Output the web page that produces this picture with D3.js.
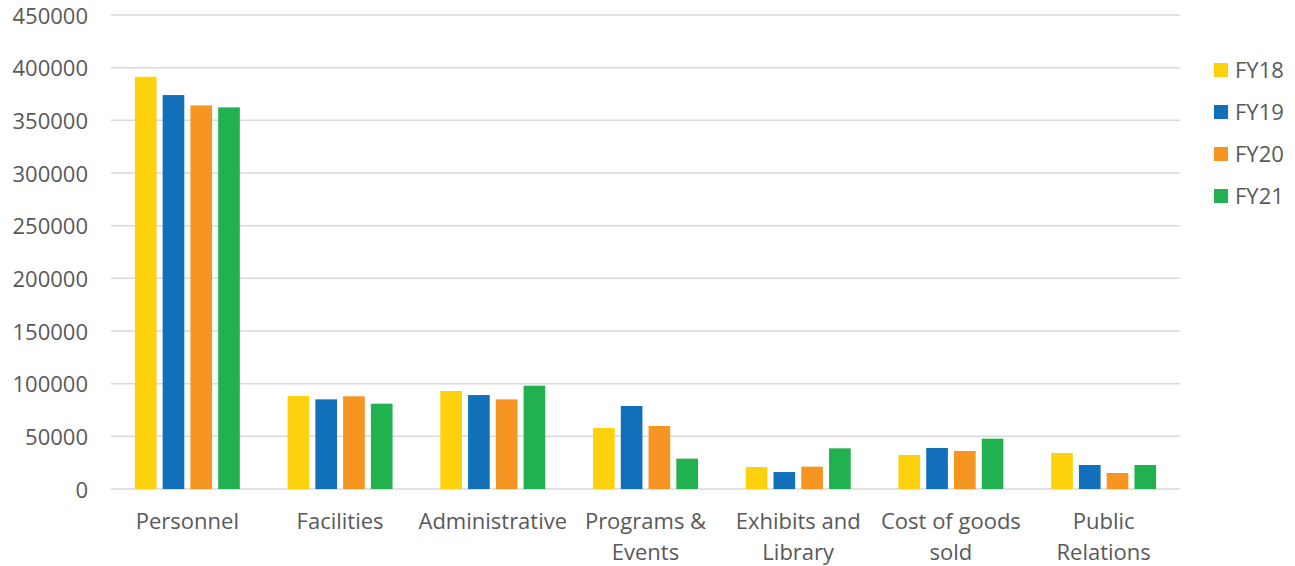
<!DOCTYPE html>
<html lang="en">
<head>
  <meta charset="UTF-8">
  <title>Expenses by category FY18-FY21</title>
  <script src="https://d3js.org/d3.v7.min.js"></script>
  <style>
    body { margin: 0; background: #fff; font-family: "Open Sans", sans-serif; }
    svg { display: block; }
    text { fill: #595959; }
  </style>
</head>
<body>
  <svg width="1295" height="566"></svg>
  <script>
    const categories = ["Personnel", "Facilities", "Administrative", "Programs & Events",
      "Exhibits and Library", "Cost of goods sold", "Public Relations"];
    const years = ["FY18", "FY19", "FY20", "FY21"];
    const fy18 = [391400, 88300, 93000, 57900, 20900, 32300, 34200];
    const fy19 = [374000, 85100, 89200, 78800, 16100, 38900, 22800];
    const fy20 = [364200, 88000, 85100, 59800, 21200, 36100, 15200];
    const fy21 = [362300, 81000, 98100, 28800, 38600, 47800, 22800];
    const yTicks = [0, 50000, 100000, 150000, 200000, 250000, 300000, 350000, 400000, 450000];
    const colors = ["#FDD10C", "#1170B9", "#F79523", "#22B14F"];

    const series = [fy18, fy19, fy20, fy21];
    const svg = d3.select("svg");
    const plotLeft = 111, plotRight = 1180, plotTop = 15, plotBottom = 489;

    const x0 = d3.scaleBand().domain(categories).range([plotLeft, plotRight]);
    const x1 = d3.scaleBand().domain(years).range([0, x0.bandwidth()])
      .paddingInner(0.22).paddingOuter(0.86);
    const y = d3.scaleLinear().domain([0, 450000]).range([plotBottom, plotTop]);
    const color = d3.scaleOrdinal().domain(years).range(colors);

    // gridlines
    svg.append("g").selectAll("line")
      .data(yTicks)
      .join("line")
      .attr("x1", plotLeft).attr("x2", plotRight)
      .attr("y1", d => y(d)).attr("y2", d => y(d))
      .attr("stroke", "#d9d9d9").attr("stroke-width", 1.5);

    // y labels
    svg.append("g").selectAll("text")
      .data(yTicks)
      .join("text")
      .attr("x", 88).attr("y", d => y(d) + 1)
      .attr("dy", "0.35em")
      .attr("text-anchor", "end")
      .attr("font-size", "22px")
      .text(d => d);

    // bars
    const groups = svg.append("g").selectAll("g")
      .data(categories)
      .join("g")
      .attr("transform", c => `translate(${x0(c)},0)`);

    groups.selectAll("rect")
      .data((c, i) => years.map((yr, j) => ({ yr, v: series[j][i] })))
      .join("rect")
      .attr("x", d => x1(d.yr))
      .attr("width", x1.bandwidth())
      .attr("y", d => y(d.v))
      .attr("height", d => plotBottom - y(d.v))
      .attr("fill", d => color(d.yr));

    // category labels, wrapped
    const catLabels = svg.append("g").selectAll("text")
      .data(categories)
      .join("text")
      .attr("x", c => x0(c) + x0.bandwidth() / 2)
      .attr("y", 529)
      .attr("text-anchor", "middle")
      .attr("font-size", "22px");

    catLabels.each(function(c) {
      const el = d3.select(this);
      const words = c.split(" ");
      let line = [];
      let tspan = el.append("tspan").attr("x", el.attr("x")).attr("dy", 0);
      words.forEach(w => {
        line.push(w);
        tspan.text(line.join(" "));
        if (tspan.node().getComputedTextLength() > 150 && line.length > 1) {
          line.pop();
          tspan.text(line.join(" "));
          line = [w];
          tspan = el.append("tspan").attr("x", el.attr("x")).attr("dy", "31px").text(w);
        }
      });
    });

    // legend
    const legend = svg.append("g").selectAll("g")
      .data(years)
      .join("g")
      .attr("transform", (d, i) => `translate(1214,${70 + i * 42})`);
    legend.append("rect")
      .attr("x", 0).attr("y", -7).attr("width", 14).attr("height", 14)
      .attr("fill", d => color(d));
    legend.append("text")
      .attr("x", 21).attr("y", 0).attr("dy", "0.35em")
      .attr("font-size", "22px")
      .text(d => d);
  </script>
</body>
</html>
